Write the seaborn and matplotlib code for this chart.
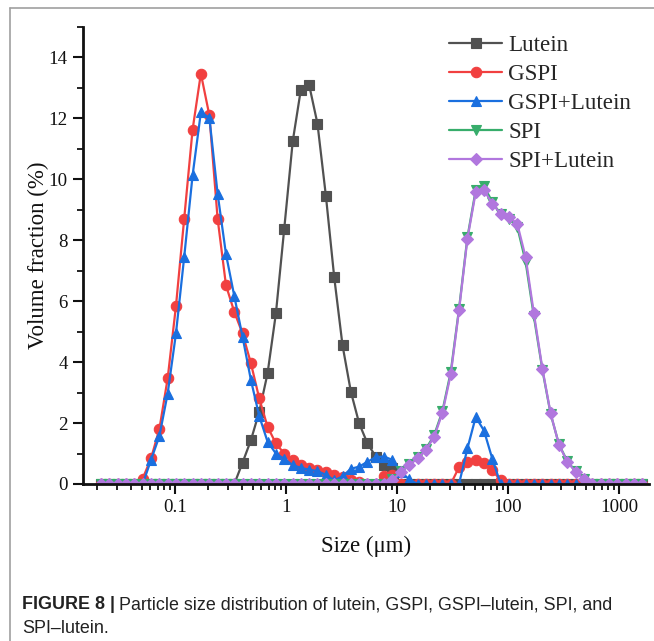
import matplotlib
matplotlib.use("Agg")
import matplotlib.pyplot as plt
import seaborn as sns
import pandas as pd
from matplotlib.lines import Line2D
from matplotlib.ticker import FixedLocator, LogLocator, MultipleLocator, NullFormatter

# Particle size classes (µm), logarithmically spaced
SIZE_UM = [
    0.0216, 0.0256, 0.0305, 0.0362, 0.0431, 0.0512, 0.0608, 0.0723, 0.0859,
    0.102, 0.121, 0.144, 0.171, 0.204, 0.242, 0.288, 0.342, 0.406, 0.483,
    0.574, 0.682, 0.811, 0.964, 1.15, 1.36, 1.62, 1.92, 2.29, 2.72,
    3.23, 3.84, 4.56, 5.42, 6.44, 7.66, 9.10, 10.8, 12.9, 15.3,
    18.2, 21.6, 25.6, 30.5, 36.2, 43.1, 51.2, 60.8, 72.3, 85.9,
    102, 121, 144, 171, 204, 242, 288, 342, 406, 483,
    574, 682, 811, 964, 1146, 1361, 1618,
]

# Volume fraction (%) per size class
LUTEIN = [
    0, 0, 0, 0, 0, 0, 0, 0, 0,
    0, 0, 0, 0, 0, 0, 0, 0, 0.70, 1.44,
    2.37, 3.63, 5.60, 8.38, 11.25, 12.94, 13.08, 11.83, 9.44, 6.78,
    4.55, 3.03, 1.99, 1.33, 0.90, 0.62, 0.51, 0, 0, 0,
    0, 0, 0, 0, 0, 0, 0, 0, 0, 0,
    0, 0, 0, 0, 0, 0, 0, 0, 0, 0,
    0, 0, 0, 0, 0, 0, 0,
]
GSPI = [
    0, 0, 0, 0, 0, 0.18, 0.84, 1.80, 3.47,
    5.84, 8.71, 11.63, 13.47, 12.10, 8.71, 6.52, 5.65, 4.94, 3.96,
    2.81, 1.88, 1.33, 1.00, 0.79, 0.62, 0.52, 0.45, 0.38, 0.30,
    0.22, 0.12, 0.05, 0, 0, 0.25, 0.30, 0, 0, 0,
    0, 0, 0, 0, 0.55, 0.72, 0.78, 0.70, 0.45, 0.12,
    0, 0, 0, 0, 0, 0, 0, 0, 0, 0,
    0, 0, 0, 0, 0, 0, 0,
]
GSPI_LUTEIN = [
    0, 0, 0, 0, 0, 0, 0.79, 1.57, 2.97,
    4.94, 7.45, 10.13, 12.20, 12.02, 9.53, 7.54, 6.17, 4.83, 3.41,
    2.23, 1.39, 1.00, 0.82, 0.62, 0.53, 0.47, 0.42, 0.30, 0.12,
    0.25, 0.50, 0.57, 0.73, 0.88, 0.90, 0.79, 0.40, 0.15, 0,
    0, 0, 0, 0, 0, 1.17, 2.20, 1.75, 0.82, 0,
    0, 0, 0, 0, 0, 0, 0, 0, 0, 0,
    0, 0, 0, 0, 0, 0, 0,
]
SPI = [
    0, 0, 0, 0, 0, 0, 0, 0, 0,
    0, 0, 0, 0, 0, 0, 0, 0, 0, 0,
    0, 0, 0, 0, 0, 0, 0, 0, 0, 0,
    0, 0, 0, 0, 0, 0, 0.15, 0.42, 0.65, 0.88,
    1.15, 1.60, 2.38, 3.68, 5.75, 8.10, 9.65, 9.78, 9.25, 8.85,
    8.70, 8.45, 7.30, 5.50, 3.75, 2.30, 1.30, 0.75, 0.42, 0.18,
    0, 0, 0, 0, 0, 0, 0,
]
SPI_LUTEIN = [
    0, 0, 0, 0, 0, 0, 0, 0, 0,
    0, 0, 0, 0, 0, 0, 0, 0, 0, 0,
    0, 0, 0, 0, 0, 0, 0, 0, 0, 0,
    0, 0, 0, 0, 0, 0, 0.12, 0.40, 0.62, 0.84,
    1.11, 1.55, 2.32, 3.60, 5.70, 8.05, 9.58, 9.64, 9.20, 8.87,
    8.76, 8.55, 7.45, 5.60, 3.79, 2.32, 1.28, 0.73, 0.40, 0.15,
    0, 0, 0, 0, 0, 0, 0,
]

SERIES_NAMES = ["Lutein", "GSPI", "GSPI+Lutein", "SPI", "SPI+Lutein"]
SERIES_VALUES = [LUTEIN, GSPI, GSPI_LUTEIN, SPI, SPI_LUTEIN]
COLORS = ["#515151", "#F14040", "#1A6FDF", "#37AD6B", "#B177DE"]
MARKERS = ["s", "o", "^", "v", "D"]
MSIZES = [6.5, 7.5, 7.5, 7.5, 6.5]

X_TICKS = [0.1, 1, 10, 100, 1000]
X_TICK_LABELS = ["0.1", "1", "10", "100", "1000"]

sns.set_style("ticks")
plt.rcParams["font.family"] = ["Liberation Serif", "DejaVu Serif"]

W, H = 654, 641
fig = plt.figure(figsize=(W / 100, H / 100), dpi=100)
ax = fig.add_axes([83 / W, 1 - 484 / H, (649 - 83) / W, (484 - 27) / H])

for name, vals, color, marker, ms in zip(SERIES_NAMES, SERIES_VALUES, COLORS, MARKERS, MSIZES):
    df = pd.DataFrame({"size": SIZE_UM, "value": vals})
    sns.lineplot(data=df, x="size", y="value", ax=ax, color=color, marker=marker,
                 markersize=ms, markeredgecolor=color, markeredgewidth=0.8,
                 linewidth=1.6, label=name, estimator=None, sort=False)

ax.set_xscale("log")
ax.set_xlim(0.01483, 1863)
ax.set_ylim(0, 15)

ax.xaxis.set_major_locator(FixedLocator(X_TICKS))
ax.set_xticklabels(X_TICK_LABELS)
ax.xaxis.set_minor_locator(LogLocator(base=10, subs=range(2, 10), numticks=20))
ax.xaxis.set_minor_formatter(NullFormatter())
ax.yaxis.set_major_locator(MultipleLocator(2))
ax.yaxis.set_minor_locator(MultipleLocator(1))

ax.tick_params(which="major", direction="out", length=7, width=1.5, labelsize=13.6,
               colors="#111111", pad=4)
ax.tick_params(which="minor", direction="out", length=4, width=1.3, colors="#111111")

for side in ("top", "right"):
    ax.spines[side].set_visible(False)
for side in ("left", "bottom"):
    ax.spines[side].set_linewidth(2)
    ax.spines[side].set_color("#111111")

ax.set_xlabel("Size (μm)", fontsize=16.5, labelpad=14, color="#111111")
ax.set_ylabel("Volume fraction (%)", fontsize=16.5, labelpad=0, color="#111111")

leg = ax.legend(loc="upper left", bbox_to_anchor=(449 / W, 1 - 35 / H),
                bbox_transform=fig.transFigure, frameon=False, fontsize=16.6,
                handlelength=2.3, handletextpad=0.28, labelspacing=0.34,
                borderpad=0, borderaxespad=0)

# Outer frame lines
fig.add_artist(Line2D([10 / W, 10 / W], [0, 1 - 8 / H], transform=fig.transFigure,
                      color="#a0a0a0", linewidth=1.2))
fig.add_artist(Line2D([10 / W, 1], [1 - 8 / H, 1 - 8 / H], transform=fig.transFigure,
                      color="#a0a0a0", linewidth=1.2))

# Caption
cap_font = ["Liberation Sans", "DejaVu Sans"]
cap_size = 12.9
t1 = fig.text(22 / W, 1 - 609 / H, "FIGURE 8 |", fontsize=cap_size, fontweight="bold",
              family=cap_font, color="#222222", va="baseline")
fig.canvas.draw()
bb = t1.get_window_extent()
fig.text((bb.x1 + 4) / W, 1 - 609 / H,
         "Particle size distribution of lutein, GSPI, GSPI–lutein, SPI, and",
         fontsize=cap_size, family=cap_font, color="#222222", va="baseline")
fig.text(22 / W, 1 - 633 / H, "SPI–lutein.", fontsize=cap_size, family=cap_font,
         color="#222222", va="baseline")

fig.savefig("out.png", dpi=100)
